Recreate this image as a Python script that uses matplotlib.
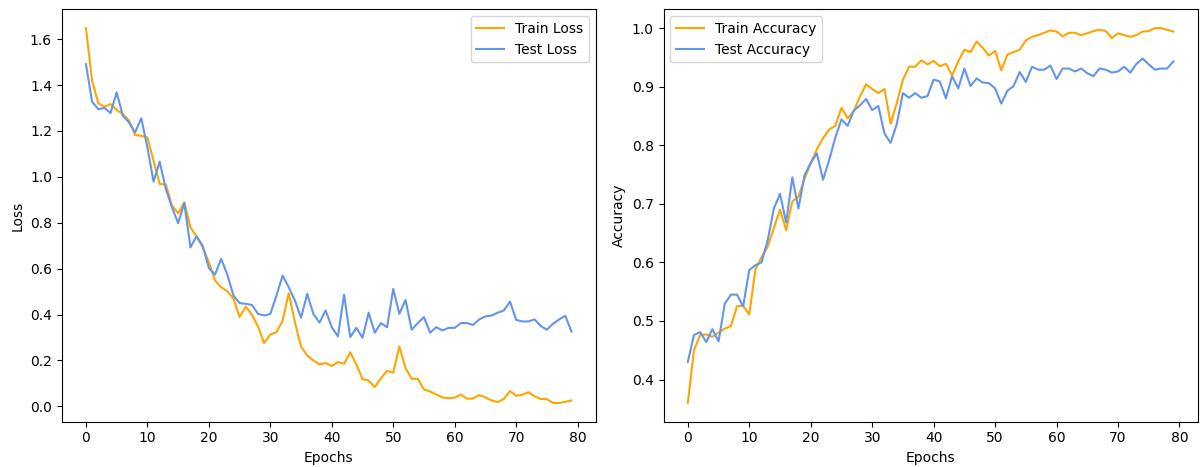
import matplotlib
matplotlib.use("Agg")
import matplotlib.pyplot as plt
import numpy as np

epochs = list(range(80))

train_loss = [1.648, 1.419, 1.321, 1.305, 1.317, 1.291, 1.274, 1.245, 1.182, 1.179,
              1.172, 1.070, 0.969, 0.966, 0.875, 0.841, 0.889, 0.780, 0.740, 0.693,
              0.628, 0.548, 0.519, 0.502, 0.469, 0.389, 0.435, 0.400, 0.348, 0.276,
              0.313, 0.323, 0.374, 0.493, 0.367, 0.261, 0.222, 0.200, 0.183, 0.189,
              0.176, 0.193, 0.186, 0.236, 0.183, 0.119, 0.113, 0.084, 0.123, 0.155,
              0.147, 0.261, 0.167, 0.120, 0.120, 0.074, 0.065, 0.052, 0.039, 0.036,
              0.038, 0.052, 0.033, 0.035, 0.049, 0.039, 0.026, 0.019, 0.032, 0.067,
              0.046, 0.051, 0.062, 0.044, 0.032, 0.032, 0.015, 0.015, 0.020, 0.026]

test_loss = [1.491, 1.327, 1.295, 1.300, 1.278, 1.368, 1.266, 1.237, 1.194, 1.255,
             1.128, 0.979, 1.066, 0.947, 0.867, 0.798, 0.886, 0.693, 0.741, 0.700,
             0.603, 0.574, 0.643, 0.574, 0.483, 0.450, 0.447, 0.442, 0.403, 0.396,
             0.403, 0.483, 0.570, 0.519, 0.461, 0.386, 0.490, 0.403, 0.365, 0.418,
             0.345, 0.305, 0.487, 0.302, 0.342, 0.299, 0.408, 0.321, 0.363, 0.345,
             0.512, 0.403, 0.464, 0.334, 0.363, 0.389, 0.321, 0.345, 0.331, 0.342,
             0.342, 0.363, 0.363, 0.355, 0.379, 0.392, 0.396, 0.408, 0.418, 0.457,
             0.377, 0.370, 0.370, 0.379, 0.350, 0.334, 0.360, 0.379, 0.395, 0.326]

train_acc = [0.360, 0.450, 0.476, 0.477, 0.473, 0.480, 0.487, 0.491, 0.525, 0.526,
             0.511, 0.588, 0.609, 0.627, 0.659, 0.690, 0.655, 0.704, 0.712, 0.743,
             0.769, 0.793, 0.812, 0.827, 0.833, 0.864, 0.846, 0.858, 0.883, 0.904,
             0.896, 0.889, 0.896, 0.837, 0.872, 0.912, 0.934, 0.934, 0.945, 0.938,
             0.944, 0.935, 0.939, 0.919, 0.943, 0.963, 0.959, 0.977, 0.966, 0.953,
             0.961, 0.928, 0.955, 0.959, 0.963, 0.979, 0.985, 0.988, 0.992, 0.996,
             0.994, 0.986, 0.992, 0.992, 0.988, 0.991, 0.995, 0.997, 0.995, 0.983,
             0.991, 0.988, 0.985, 0.988, 0.994, 0.995, 1.000, 1.000, 0.997, 0.994]

test_acc = [0.430, 0.476, 0.481, 0.464, 0.486, 0.465, 0.529, 0.545, 0.545, 0.525,
            0.587, 0.595, 0.600, 0.638, 0.692, 0.717, 0.668, 0.745, 0.692, 0.749,
            0.770, 0.786, 0.741, 0.775, 0.813, 0.844, 0.833, 0.859, 0.868, 0.879,
            0.860, 0.867, 0.820, 0.804, 0.836, 0.889, 0.881, 0.889, 0.881, 0.884,
            0.912, 0.909, 0.880, 0.918, 0.897, 0.931, 0.901, 0.914, 0.907, 0.906,
            0.897, 0.871, 0.893, 0.901, 0.925, 0.908, 0.934, 0.929, 0.929, 0.936,
            0.913, 0.931, 0.931, 0.926, 0.931, 0.923, 0.918, 0.931, 0.929, 0.924,
            0.926, 0.934, 0.924, 0.939, 0.948, 0.938, 0.929, 0.931, 0.931, 0.943]

fig, (ax1, ax2) = plt.subplots(1, 2, figsize=(12, 4.67), dpi=100)

ax1.plot(epochs, train_loss, color="orange", label="Train Loss")
ax1.plot(epochs, test_loss, color="cornflowerblue", label="Test Loss")
ax1.set_xlabel("Epochs")
ax1.set_ylabel("Loss")
ax1.legend(loc="upper right")

ax2.plot(epochs, train_acc, color="orange", label="Train Accuracy")
ax2.plot(epochs, test_acc, color="cornflowerblue", label="Test Accuracy")
ax2.set_xlabel("Epochs")
ax2.set_ylabel("Accuracy")
ax2.legend(loc="upper left")

fig.subplots_adjust(left=0.0514, right=0.998, bottom=0.097, top=0.980, wspace=0.127)
fig.savefig("out.png", dpi=100)
